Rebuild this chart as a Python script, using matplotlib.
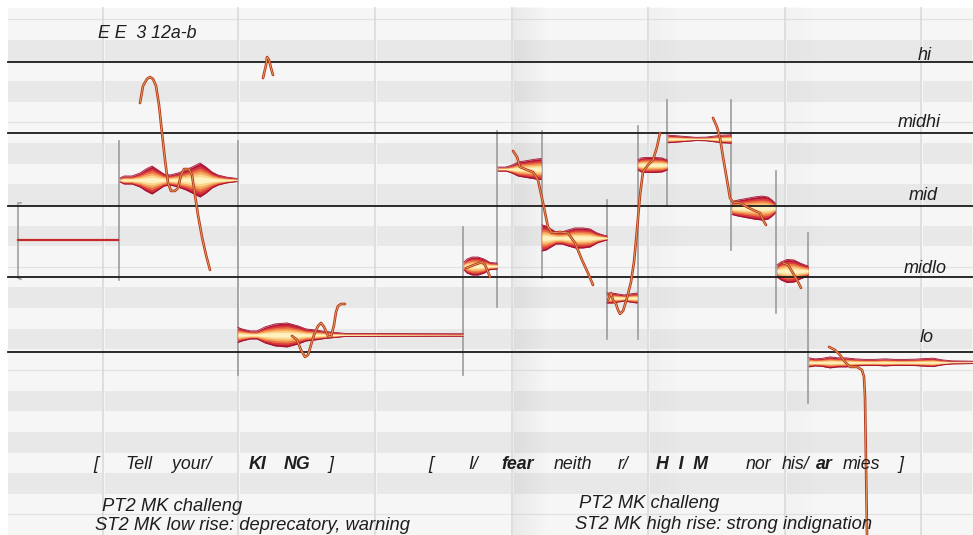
import numpy as np
import matplotlib.pyplot as plt
import matplotlib.patheffects as pe

W, H = 973, 535
PX_PER_ST = 20.63                 # pixels per semitone lane
P_TOP = 65.935                    # pitch at the top edge
P_BOT = P_TOP - H / PX_PER_ST     # pitch at the bottom edge
AMP = 1 / PX_PER_ST               # amplitude units -> semitones

# reference pitch levels
level_names = ['hi', 'midhi', 'mid', 'midlo', 'lo']
level_pitch = [62.95, 59.50, 55.95, 52.52, 48.87]
level_lab_x = [918, 898, 909, 904, 920]
level_lab_y = [60, 127, 200, 273, 342]

# time grid (frames)
grid_x = [103, 238, 375, 512, 648, 785, 921]

# note borders: frame, pitch top, pitch bottom
seg_x = [119, 238, 463, 497, 542, 607, 638, 667, 731, 776, 808]
seg_top = [59.10, 59.10, 54.93, 59.59, 59.59, 56.24, 59.83, 61.09, 61.09, 57.65, 54.64]
seg_bot = [52.36, 47.76, 47.76, 51.05, 52.46, 49.50, 49.50, 55.95, 53.82, 50.76, 46.40]

# unvoiced / flat first note
flat_x = [18, 118]
flat_p = [54.30, 54.30]

# note blobs: centre pitch, frames, amplitude
a_c = 57.21
a_x = [120, 124, 132, 140, 146, 152, 158, 164, 170, 178, 186, 194, 200, 206, 212, 218, 226, 237]
a_amp = [2, 4, 4, 7, 11, 14, 10, 6, 5, 7, 10, 14, 17, 13, 8, 5, 3, 1.5]
b_c = 49.70
b_x = [238, 242, 250, 257, 265, 275, 287, 298, 306, 315, 325, 335, 345, 463]
b_amp = [7.5, 6, 4, 4, 8, 11, 12, 9, 6, 5, 3.5, 2.5, 1.5, 1.2]
c_c = 53.04
c_x = [464, 467, 472, 478, 484, 490, 497]
c_amp = [4, 7, 9, 9, 7, 3.5, 3]
d_c = 57.74
d_x = [498, 506, 512, 518, 524, 530, 536, 541]
d_amp = [2, 2, 4, 7, 8, 9, 10, 10.5]
e_c = 54.40
e_x = [542, 546, 551, 556, 562, 568, 575, 583, 590, 597, 603, 607]
e_amp = [13, 12, 9, 6, 6, 8, 10, 10, 9, 5, 3, 2]
f_c = 51.49
f_x = [607, 612, 618, 624, 630, 637]
f_amp = [5, 5, 4, 3, 4, 5]
g_c = 57.94
g_x = [638, 641, 646, 654, 662, 667]
g_amp = [5, 7, 7.5, 7.5, 7, 5]
h_c = 59.20
h_x = [668, 676, 686, 696, 706, 714, 722, 731]
h_amp = [3.8, 3.2, 2.4, 1.6, 1.8, 2.8, 3.8, 4.2]
i_c = 55.85
i_x = [732, 738, 746, 754, 762, 768, 772, 775]
i_amp = [6.5, 8, 9.5, 11, 12, 11, 8, 5]
j_c = 52.80
j_x = [777, 781, 787, 794, 800, 805, 808]
j_amp = [6, 9, 11.5, 11, 8, 6, 5]
k_c = 48.37
k_x = [809, 815, 822, 830, 838, 846, 855, 865, 875, 885, 895, 905, 915, 925, 933, 942, 952, 973]
k_amp = [4.5, 3.5, 4, 5.5, 4.5, 4.5, 3.5, 3, 3, 3.5, 3, 3, 3.2, 3.8, 4.2, 2.5, 1.5, 1.2]

# pitch curves
cv1_x = [140, 143, 147, 150, 153, 156, 159, 162, 165, 168, 171, 175, 178, 181, 184, 189, 192, 195, 198, 202, 206, 210]
cv1_p = [60.94, 61.77, 62.11, 62.20, 62.11, 61.77, 60.85, 59.49, 58.18, 57.07, 56.68, 56.68, 56.82, 57.45,
         57.74, 57.74, 57.45, 56.48, 55.51, 54.45, 53.58, 52.85]
cv2_x = [263, 266, 267, 269, 271, 273]
cv2_p = [62.15, 62.78, 63.17, 63.03, 62.64, 62.30]
cv3_x = [292, 297, 301, 305, 308, 311, 314, 318, 321, 324, 328, 331, 334, 336, 338, 341, 345]
cv3_p = [49.65, 49.46, 48.97, 48.63, 48.73, 49.21, 49.70, 50.13, 50.28, 50.09, 49.65, 49.60, 50.18,
         50.81, 51.10, 51.20, 51.20]
cv4_x = [466, 474, 482, 485, 488, 490]
cv4_p = [52.94, 53.09, 53.24, 53.09, 52.75, 52.51]
cv5_x = [513, 517, 520, 527, 533, 538, 543, 548, 552, 560, 568, 575, 582, 588, 593]
cv5_p = [58.62, 58.33, 57.84, 57.70, 57.60, 57.21, 56.10, 54.93, 54.64, 54.69, 54.64, 54.16, 53.33, 52.70, 52.12]
cv6_x = [608, 611, 613, 616, 618, 620, 623, 627, 631, 634, 637, 640, 643, 648, 653, 657, 660]
cv6_p = [51.39, 51.73, 51.39, 51.20, 50.91, 50.72, 50.86, 51.49, 52.27, 53.24, 54.79, 56.48, 57.60,
         57.94, 58.18, 58.81, 59.49]
cv7_x = [713, 717, 720, 723, 727, 730, 733, 740, 747, 753, 760, 763, 766]
cv7_p = [60.22, 59.78, 59.25, 58.33, 57.21, 56.34, 56.14, 56.10, 55.90, 55.76, 55.61, 55.27, 55.03]
cv8_x = [783, 788, 793, 798, 801]
cv8_p = [53.19, 53.09, 52.70, 52.27, 51.98]
cv9_x = [829, 835, 840, 845, 850, 857, 862, 864, 865, 866, 867, 868]
cv9_p = [49.12, 48.97, 48.73, 48.39, 48.15, 48.15, 48.00, 47.66, 46.69, 43.49, 40.00, 39.00]

# transcription text
word_text = ['[', 'Tell', 'your/', 'KI', 'NG', ']', '[', 'I/', 'fear', 'neith', 'r/', 'H  I  M',
             'nor', 'his/', 'ar', 'mies', ']']
word_x = [93, 125, 172, 249, 284, 328, 428, 468, 501, 554, 618, 656, 746, 782, 816, 843, 898]
word_bold = [0, 0, 0, 1, 1, 0, 0, 0, 1, 0, 0, 1, 0, 0, 1, 0, 0]
notes_text = ['PT2 MK challeng', 'ST2 MK low rise: deprecatory, warning',
              'PT2 MK challeng', 'ST2 MK high rise: strong indignation']
notes_x = [102, 95, 579, 575]
notes_y = [511, 530, 508, 529]

fig = plt.figure(figsize=(W / 100, H / 100), dpi=100)
ax = fig.add_axes([0, 0, 1, 1])
ax.set_xlim(0, W)
ax.set_ylim(P_BOT, P_TOP)
ax.axis('off')

bg_top = P_TOP - 8 / PX_PER_ST
ax.fill_between([8, W], P_BOT, bg_top, color='#f6f6f6', lw=0, zorder=0)

# piano-roll lanes, black keys darker, thin line at B|C and E|F
cols = [8] + grid_x + [W]
for m in range(int(np.floor(P_BOT)), int(np.ceil(P_TOP))):
    pc = m % 12
    top = min(m + 1, bg_top)
    if pc in (1, 3, 6, 8, 10):
        for k in range(len(cols) - 1):
            x0 = cols[k] + (0 if k == 0 else 2)
            ax.fill_between([x0, cols[k + 1] - 1], m, top, color='#e8e8e8', lw=0, zorder=1)
    if pc in (0, 5):
        ax.plot([8, W], [m, m], color='#e2e2e2', lw=0.8, zorder=1)

# soft shading at the start of some columns
for gx, strength in [(512, 0.12), (648, 0.05), (785, 0.04)]:
    grad = np.zeros((1, 60, 4))
    grad[..., :3] = 0.55
    grad[0, :, 3] = np.linspace(strength, 0, 60)
    ax.imshow(grad, extent=[gx + 1, gx + 36, P_BOT, bg_top], aspect='auto', zorder=1.5,
              interpolation='bilinear')

for gx in grid_x:
    ax.plot([gx, gx], [P_BOT, bg_top], color='#dcdcdc', lw=1.3, zorder=2)

# note borders
ax.plot([21, 18, 18, 21], [56.10, 56.10, 52.46, 52.40], color='#a0a0a0', lw=1.2, zorder=3)
for x, t, b in zip(seg_x, seg_top, seg_bot):
    ax.plot([x, x], [b, t], color='#9c9c9c', lw=1.2, zorder=3)

# blobs
layers = [(1.0, '#b5163a'), (0.84, '#d83a3c'), (0.68, '#ec7244'),
          (0.52, '#f6aa62'), (0.36, '#fbd68c'), (0.2, '#fff2c0')]
blobs = [(a_c, a_x, a_amp), (b_c, b_x, b_amp), (c_c, c_x, c_amp), (d_c, d_x, d_amp),
         (e_c, e_x, e_amp), (f_c, f_x, f_amp), (g_c, g_x, g_amp), (h_c, h_x, h_amp),
         (i_c, i_x, i_amp), (j_c, j_x, j_amp), (k_c, k_x, k_amp)]
for c, xs, amps in blobs:
    xs = np.array(xs, float)
    amps = np.array(amps, float) * AMP
    for s, col in layers:
        ax.fill_between(xs, c - amps * s, c + amps * s, color=col, lw=0, zorder=4)
    ax.plot(xs, c + amps, color='#a31230', lw=0.6, zorder=4)
    ax.plot(xs, c - amps, color='#a31230', lw=0.6, zorder=4)

ax.plot(flat_x, flat_p, color='#c42a2a', lw=1.6, zorder=4)

# reference levels
for p in level_pitch:
    ax.plot([8, W], [p, p], color='#1a1a1a', lw=1.3, zorder=4.5)

# pitch curves
curve_fx = [pe.Stroke(linewidth=1.9, foreground='#b53c1e'), pe.Normal()]
for xs, ps in [(cv1_x, cv1_p), (cv2_x, cv2_p), (cv3_x, cv3_p), (cv4_x, cv4_p), (cv5_x, cv5_p),
               (cv6_x, cv6_p), (cv7_x, cv7_p), (cv8_x, cv8_p), (cv9_x, cv9_p)]:
    ax.plot(xs, ps, color='#f0b46e', lw=0.5, zorder=5, path_effects=curve_fx,
            solid_capstyle='round', solid_joinstyle='round')


def put(xp, yp, s, size=12.8, weight='normal'):
    ax.text(xp / W, 1 - yp / H, s, transform=ax.transAxes, fontsize=size, fontstyle='italic',
            fontweight=weight, family='Liberation Sans', color='#1e1e1e', va='baseline',
            ha='left', zorder=7)


put(98, 38, 'E E  3 12a-b')
for name, lx, ly in zip(level_names, level_lab_x, level_lab_y):
    put(lx, ly, name, size=13)
for s, x, b in zip(word_text, word_x, word_bold):
    put(x, 469, s, weight='bold' if b else 'normal')
for s, x, y in zip(notes_text, notes_x, notes_y):
    put(x, y, s, size=13.2)

fig.savefig('out.png', dpi=100, facecolor='white')
